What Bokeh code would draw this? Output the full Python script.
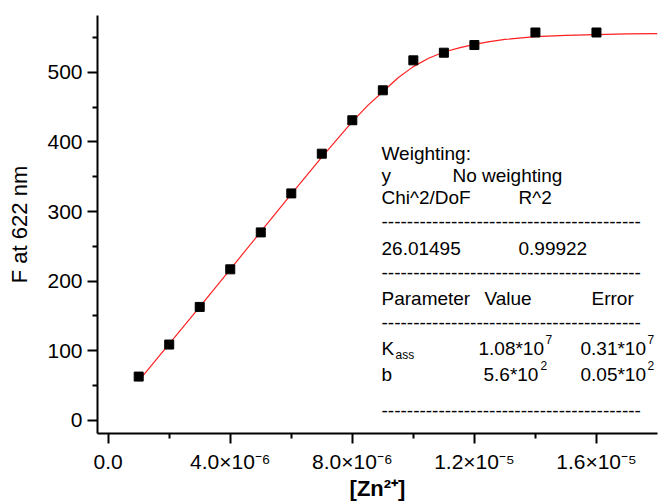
from bokeh.plotting import figure
from bokeh.models import Range1d, FixedTicker, CustomJSTickFormatter, Label
from bokeh.embed import file_html
from bokeh.resources import INLINE

# ---- data ----
zn_conc = [1e-6, 2e-6, 3e-6, 4e-6, 5e-6, 6e-6, 7e-6, 8e-6, 9e-6, 10e-6, 11e-6, 12e-6, 14e-6, 16e-6]
f_622 = [63, 109, 163, 217, 270, 326, 383, 431, 474, 517, 528, 539, 557, 557]

fit_x = [1.0e-6, 2e-6, 3e-6, 4e-6, 5e-6, 6e-6, 7e-6, 8e-6, 8.5e-6, 9e-6, 9.5e-6, 10e-6,
         10.5e-6, 11e-6, 11.5e-6, 12e-6, 12.5e-6, 13e-6, 14e-6, 15e-6, 16e-6, 17e-6, 18e-6]
fit_y = [57, 110, 163, 217, 271, 325, 378, 429, 452, 472, 492, 508,
         520, 529, 535, 540, 544, 547, 551, 553, 554, 555, 555.5]

x_ticks = [0, 4e-6, 8e-6, 1.2e-5, 1.6e-5]
x_tick_labels = ["0.0", "4.0×10⁻⁶", "8.0×10⁻⁶", "1.2×10⁻⁵", "1.6×10⁻⁵"]
x_minor = [2e-6, 6e-6, 10e-6, 14e-6]
y_ticks = [0, 100, 200, 300, 400, 500]
y_minor = [50, 150, 250, 350, 450, 550]

FONT = "Liberation Sans"
W, H = 668, 504
FL, FR, FT, FB = 97, 657, 15, 433

p = figure(width=W, height=H, output_backend="svg", toolbar_location=None,
           x_range=Range1d(-0.35e-6, 18.0e-6), y_range=Range1d(-18.7, 581.4),
           min_border_left=FL, min_border_right=W - FR, min_border_top=FT,
           min_border_bottom=H - FB)
p.outline_line_color = None
p.grid.visible = False
p.background_fill_color = "white"
p.border_fill_color = "white"

for ax in (p.xaxis[0], p.yaxis[0]):
    ax.axis_line_width = 2
    ax.axis_line_color = "black"
    ax.major_tick_line_width = 2
    ax.minor_tick_line_width = 2
    ax.major_tick_in = 0
    ax.major_tick_out = 10
    ax.minor_tick_in = 0
    ax.minor_tick_out = 5
    ax.major_label_text_font = FONT
    ax.major_label_text_font_size = "21px"
    ax.major_label_text_color = "black"

p.xaxis.ticker = FixedTicker(ticks=x_ticks, minor_ticks=x_minor)
p.xaxis.formatter = CustomJSTickFormatter(args=dict(labels=x_tick_labels),
                                          code="return labels[index];")
p.xaxis.major_label_standoff = 6
p.xaxis.axis_label = "[Zn²⁺]"
p.xaxis.axis_label_text_font = FONT
p.xaxis.axis_label_text_font_size = "22px"
p.xaxis.axis_label_text_font_style = "bold"
p.xaxis.axis_label_text_color = "black"
p.xaxis.axis_label_standoff = 0

p.yaxis.ticker = FixedTicker(ticks=y_ticks, minor_ticks=y_minor)
p.yaxis.major_label_standoff = 5
p.yaxis.axis_label = "F at 622 nm"
p.yaxis.axis_label_text_font = FONT
p.yaxis.axis_label_text_font_size = "22px"
p.yaxis.axis_label_text_font_style = "normal"
p.yaxis.axis_label_text_color = "black"
p.yaxis.axis_label_standoff = 12

p.line(fit_x, fit_y, line_color="#ff2020", line_width=1.2)
p.scatter(zn_conc, f_622, marker="square", size=9, fill_color="black", line_color="black")


def lab(text, cx, base, size="19px", style="normal", align="left"):
    p.add_layout(Label(x=cx - FL, y=FB - base, x_units="screen", y_units="screen",
                       text=text, text_font=FONT, text_font_size=size,
                       text_font_style=style, text_color="black",
                       text_align=align, text_baseline="alphabetic"))


dashes = "-" * 41
c1, c2, c3 = 381, 478, 580
lab("Weighting:", c1, 153)
lab("y", c1, 175)
lab("No weighting", 452, 175)
lab("Chi^2/DoF", c1, 197)
lab("R^2", 518, 197)
lab(dashes, c1, 221)
lab("26.01495", c1, 248)
lab("0.99922", 518, 248)
lab(dashes, c1, 272)
lab("Parameter", c1, 298)
lab("Value", 484, 298)
lab("Error", 591, 298)
lab(dashes, c1, 322)
lab("K", c1, 348)
lab("ass", 395, 354, size="12px")
lab("1.08*10", c2, 348)
lab("7", c2 + 67, 339, size="12px")
lab("0.31*10", c3, 348)
lab("7", c3 + 67, 339, size="12px")
lab("b", c1, 374)
lab("5.6*10", c2 + 5, 374)
lab("2", c2 + 5 + 57, 365, size="12px")
lab("0.05*10", c3, 374)
lab("2", c3 + 67, 365, size="12px")
lab(dashes, c1, 410)

open("out.html", "w").write(file_html(p, INLINE))
